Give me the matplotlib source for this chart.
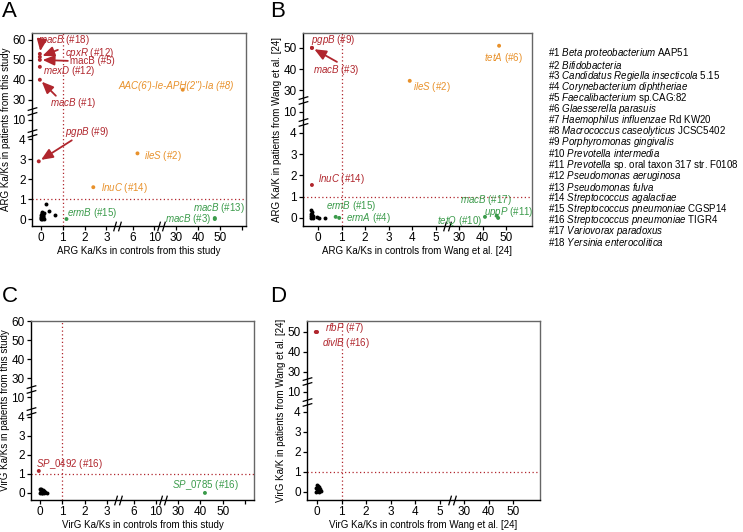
import numpy as np
import matplotlib
matplotlib.use('Agg')
import matplotlib.pyplot as plt
from matplotlib.path import Path

plt.rcParams['font.family'] = ['Liberation Sans', 'DejaVu Sans']
plt.rcParams['mathtext.fontset'] = 'custom'
plt.rcParams['mathtext.rm'] = 'Liberation Sans'
plt.rcParams['mathtext.it'] = 'Liberation Sans:italic'

RED = '#b0262d'
ORANGE = '#e8912b'
GREEN = '#3b9b4b'

# ---------------- data ----------------
# panel A: ARG, this study
a_black_x = [0.0, 0.02, 0.05, 0.08, 0.1, 0.12, 0.03, 0.06, 0.09, 0.0, 0.04, 0.11, 0.07, 0.01, 0.14, 0.23, 0.36, 0.63]
a_black_y = [0.0, 0.05, 0.1, 0.15, 0.2, 0.3, 0.35, 0.25, 0.05, 0.2, 0.0, 0.1, 0.3, 0.12, 0.02, 0.75, 0.4, 0.2]
a_labels = ['$\\mathit{macB}$ (#18)', '$\\mathit{cpxR}$ (#12)', 'macB (#5)', '$\\mathit{mexD}$ (#12)',
            '$\\mathit{macB}$ (#1)', '$\\mathit{pgpB}$ (#9)', '$\\mathit{ileS}$ (#2)', '$\\mathit{lnuC}$ (#14)',
            "AAC(6')-Ie-APH(2'')-Ia (#8)", '$\\mathit{ermB}$ (#15)', '$\\mathit{macB}$ (#13)', '$\\mathit{macB}$ (#3)']
a_x = [-0.05, -0.05, -0.05, -0.05, -0.05, -0.1, 6.9, 2.4, 33, 1.17, 47.7, 47.7]
a_y = [53, 51.5, 50, 46.5, 40, 2.9, 3.3, 1.6, 35, 0, 0.05, 0]
a_col = [RED, RED, RED, RED, RED, RED, ORANGE, ORANGE, ORANGE, GREEN, GREEN, GREEN]

# panel B: ARG, Wang et al.
b_black_x = [-0.3, -0.28, -0.25, -0.3, -0.27, -0.22, -0.3, -0.2, -0.26, -0.05, 0.05, 0.3]
b_black_y = [0.0, 0.1, 0.05, 0.2, 0.3, 0.0, 0.38, 0.1, 0.15, 0.02, 0.0, 0.0]
b_labels = ['$\\mathit{pgpB}$ (#9)', '$\\mathit{macB}$ (#3)', '$\\mathit{ileS}$ (#2)', '$\\mathit{tetA}$ (#6)',
            '$\\mathit{lnuC}$ (#14)', '$\\mathit{ermB}$ (#15)', '$\\mathit{ermA}$ (#4)', '$\\mathit{tetQ}$ (#10)',
            '$\\mathit{macB}$ (#17)', '$\\mathit{uppP}$ (#11)']
b_x = [-0.26, -0.26, 3.9, 47, -0.26, 0.75, 0.9, 41, 46, 46.6]
b_y = [50, 50, 34.5, 51, 1.55, 0.05, 0, 0.05, 0.1, 0]
b_col = [RED, RED, ORANGE, ORANGE, RED, GREEN, GREEN, GREEN, GREEN, GREEN]

# panel C: VirG, this study
c_black_x = [0.0, 0.03, 0.06, 0.1, 0.15, 0.2, 0.25, 0.3, 0.05, 0.12, 0.18, 0.02, 0.08]
c_black_y = [0.0, 0.05, 0.1, 0.02, 0.08, 0.0, 0.05, 0.02, 0.18, 0.15, 0.12, 0.2, 0.0]
c_labels = ['$\\mathit{SP\\_0492}$ (#16)', '$\\mathit{SP\\_0785}$ (#16)']
c_x = [-0.05, 42]
c_y = [1.15, 0]
c_col = [RED, GREEN]

# panel D: VirG, Wang et al.
d_black_x = [-0.05, 0.0, 0.05, 0.1, 0.15, -0.03, 0.02, 0.08, 0.12, 0.0, 0.05, 0.1]
d_black_y = [0.0, 0.05, 0.1, 0.0, 0.05, 0.2, 0.3, 0.25, 0.15, 0.35, 0.2, 0.1]
d_labels = ['$\\mathit{rfbP}$ (#7)', '$\\mathit{divlB}$ (#16)']
d_x = [-0.05, 0.0]
d_y = [50, 50]
d_col = [RED, RED]

legend_names = [
    ('#1 ', 'Beta proteobacterium', ' AAP51'),
    ('#2 ', 'Bifidobacteria', ''),
    ('#3 ', 'Candidatus Regiella insecticola', ' 5.15'),
    ('#4 ', 'Corynebacterium diphtheriae', ''),
    ('#5 ', 'Faecalibacterium', ' sp.CAG:82'),
    ('#6 ', 'Glaesserella parasuis', ''),
    ('#7 ', 'Haemophilus influenzae', ' Rd KW20'),
    ('#8 ', 'Macrococcus caseolyticus', ' JCSC5402'),
    ('#9 ', 'Porphyromonas gingivalis', ''),
    ('#10 ', 'Prevotella intermedia', ''),
    ('#11 ', 'Prevotella', ' sp. oral taxon 317 str. F0108'),
    ('#12 ', 'Pseudomonas aeruginosa', ''),
    ('#13 ', 'Pseudomonas fulva', ''),
    ('#14 ', 'Streptococcus agalactiae', ''),
    ('#15 ', 'Streptococcus pneumoniae', ' CGSP14'),
    ('#16 ', 'Streptococcus pneumoniae', ' TIGR4'),
    ('#17 ', 'Variovorax paradoxus', ''),
    ('#18 ', 'Yersinia enterocolitica', ''),
]

# label offsets (pixels, from the point) and arrows
a_off = [(-2, 14), (25, 4), (30, -1), (3, -4), (10, -23), (26, 29), (7, -3), (8, -1), (-64, 4), (1, 6), (-22, 10), (-50, 0)]
a_arrow = [(1, 7), (18, 7), (28, -1), None, (16, -16), (33, 21), None, None, None, None, None, None]
b_off = [(-1, 8), (1, -22), (3, -6), (-15, -12), (6, 6), (-10, 11), (7, 0), (-48, -4), (-37, 16), (-14, 6)]
b_arrow = [None, (25, -14), None, None, None, None, None, None, None, None]
c_off = [(-3, 7), (-33, 8)]
d_off = [(9, 4), (5, -11)]

# ---------------- scales ----------------
def make_scale(dk, tk):
    dk = np.array(dk, float)
    tk = np.array(tk, float)
    return (lambda v: np.interp(v, dk, tk)), (lambda v: np.interp(v, tk, dk))

x_this = make_scale([-100, 0, 3, 6, 10, 30, 1000], [-100, 0, 3, 4.2, 5.2, 6.2, 103.2])
x_wang = make_scale([-100, 0, 5, 30, 1000], [-100, 0, 5, 6, 103])
y_all = make_scale([-100, 0, 4, 10, 30, 1000], [-100, 0, 4, 5, 6, 103])

xb_path = Path([(-1.6, -2), (-0.4, 2), (0.4, -2), (1.6, 2)],
               [Path.MOVETO, Path.LINETO, Path.MOVETO, Path.LINETO])
yb_path = Path([(-2, -1.6), (2, -0.4), (-2, 0.4), (2, 1.6)],
               [Path.MOVETO, Path.LINETO, Path.MOVETO, Path.LINETO])


def setup(ax, xs, xticks, xtl, xlim, ylim, yticks, xbreaks, ybreaks, xlabel, ylabel):
    ax.set_xscale('function', functions=xs)
    ax.set_yscale('function', functions=y_all)
    ax.set_xlim(*xlim)
    ax.set_ylim(*ylim)
    ax.set_xticks(xticks)
    ax.set_xticklabels(xtl)
    ax.set_yticks(yticks)
    ax.set_yticklabels([str(t) for t in yticks])
    ax.minorticks_off()
    ax.tick_params(labelsize=8.5, length=3, width=0.9, pad=1.5, colors='black')
    for s in ['top', 'right']:
        ax.spines[s].set_color('#666666')
        ax.spines[s].set_linewidth(1)
    for s in ['left', 'bottom']:
        ax.spines[s].set_linewidth(1)
    ax.axvline(1, color=RED, ls=(0, (1, 2)), lw=0.9)
    ax.axhline(1, color=RED, ls=(0, (1, 2)), lw=0.9)
    for xb in xbreaks:
        ax.plot([xb], [0], marker=xb_path, ms=7, mew=0.9, color='black',
                transform=ax.get_xaxis_transform(), clip_on=False)
    for yb in ybreaks:
        ax.plot([0], [yb], marker=yb_path, ms=7, mew=0.9, color='black',
                transform=ax.get_yaxis_transform(), clip_on=False)
    ax.set_xlabel(xlabel, fontsize=7, labelpad=1)
    ax.set_ylabel(ylabel, fontsize=7, labelpad=1)


def mark(ax, bx, by, xs, ys, labels, cols, offs, arrows=None):
    ax.scatter(bx, by, s=8, color='black', zorder=3, linewidths=0)
    ax.scatter(xs, ys, s=8, color=cols, zorder=3, linewidths=0)
    for i in range(len(labels)):
        ax.annotate(labels[i], (xs[i], ys[i]), xytext=offs[i], textcoords='offset pixels',
                    fontsize=7, color=cols[i], ha='left', va='center',
                    fontstyle='italic' if '$' not in labels[i] and '#5' not in labels[i] else 'normal')
        if arrows and arrows[i]:
            ax.annotate('', (xs[i], ys[i]), xytext=arrows[i], textcoords='offset pixels',
                        arrowprops=dict(arrowstyle='-|>,head_length=0.7,head_width=0.3',
                                        color=cols[i], lw=1.3, shrinkA=0, shrinkB=2))


fig = plt.figure(figsize=(7.43, 5.32), dpi=100)
W, H = 743.0, 532.0

def box(l, r, t, b):
    return [l / W, 1 - b / H, (r - l) / W, (b - t) / H]

axA = fig.add_axes(box(32, 246, 33, 226))
axB = fig.add_axes(box(303, 532, 33, 226))
axC = fig.add_axes(box(31, 254, 321, 500))
axD = fig.add_axes(box(307, 540, 321, 500))

xt_this = [0, 1, 2, 3, 6, 10, 30, 40, 50, 60]
xtl_this = ['0', '1', '2', '3', '6', '10', '30', '40', '50', '']
xt_wang = [0, 1, 2, 3, 4, 5, 30, 40, 50]
xtl_wang = [str(t) for t in xt_wang]

setup(axA, x_this, xt_this, xtl_this, (-0.41, 62), (-0.35, 63.5), [0, 1, 2, 3, 4, 10, 30, 40, 50, 60],
      [4.2, 16], [5.8, 19], 'ARG Ka/Ks in controls from this study', 'ARG Ka/Ks in patients from this study')
setup(axB, x_wang, xt_wang, xtl_wang, (-0.64, 61), (-0.38, 57), [0, 1, 2, 3, 4, 10, 30, 40, 50],
      [17.5], [7, 21], 'ARG Ka/Ks in controls from Wang et al. [24]', 'ARG Ka/K in patients from Wang et al. [24]')
setup(axC, x_this, xt_this, xtl_this, (-0.4, 64), (-0.37, 60), [0, 1, 2, 3, 4, 10, 30, 40, 50, 60],
      [4.2, 16], [5.8, 19], 'VirG Ka/Ks in controls from this study', 'VirG Ka/Ks in patients from this study')
setup(axD, x_wang, xt_wang, xtl_wang, (-0.41, 61), (-0.4, 55.5), [0, 1, 2, 3, 4, 10, 30, 40, 50],
      [17.5], [7, 21], 'VirG Ka/Ks in controls from Wang et al. [24]', 'VirG Ka/K in patients from Wang et al. [24]')

mark(axA, a_black_x, a_black_y, a_x, a_y, a_labels, a_col, a_off, a_arrow)
mark(axB, b_black_x, b_black_y, b_x, b_y, b_labels, b_col, b_off, b_arrow)
mark(axC, c_black_x, c_black_y, c_x, c_y, c_labels, c_col, c_off)
mark(axD, d_black_x, d_black_y, d_x, d_y, d_labels, d_col, d_off)

for letter, x, y in [('A', 2, 1), ('B', 270, 1), ('C', 2, 286), ('D', 270, 286)]:
    fig.text(x / W, 1 - y / H, letter, fontsize=16, va='top', ha='left')

for i, (pre, it, post) in enumerate(legend_names):
    s = pre + '$\\mathit{' + it.replace(' ', '\\ ') + '}$' + post
    fig.text(548 / W, 1 - (53.5 + i * 11.1) / H, s, fontsize=7.05, va='center', ha='left')

fig.savefig('out.png', dpi=100)
